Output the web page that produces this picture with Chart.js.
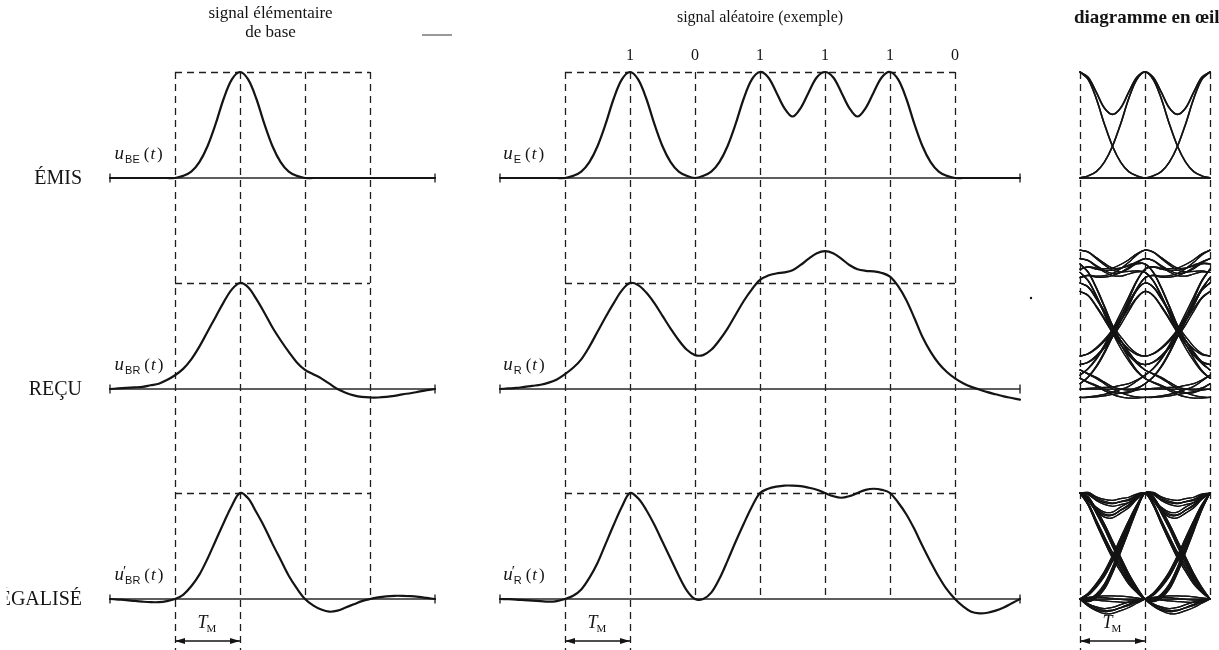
<!DOCTYPE html>
<html>
<head>
<meta charset="utf-8">
<script src="https://cdn.jsdelivr.net/npm/chart.js@4"></script>
<style>
html,body{margin:0;padding:0;background:#fff;overflow:hidden}
canvas{display:block}
</style>
</head>
<body>
<canvas id="c" width="1219" height="650"></canvas>
<script>
// ---------------- DATA (x unit = T_M, y: peak of the pulse = 1) ----------------
// time grid of the elementary pulse (t = 0 at the first dashed line, peak at t = 1)
const tPulse = [-1, -0.875, -0.75, -0.625, -0.5, -0.375, -0.25, -0.125, 0,
  0.125, 0.25, 0.375, 0.5, 0.625, 0.75, 0.875, 1,
  1.125, 1.25, 1.375, 1.5, 1.625, 1.75, 1.875, 2,
  2.125, 2.25, 2.375, 2.5, 2.625, 2.75, 2.875, 3,
  3.125, 3.25, 3.375, 3.5, 3.625, 3.75, 3.875, 4];
// elementary pulses u_BE, u_BR, u'_BR
const pulseEmitted = [0, 0, 0, 0, 0, 0, 0, 0, 0,
  0.02, 0.06, 0.15, 0.30, 0.51, 0.75, 0.93, 1,
  0.93, 0.75, 0.51, 0.30, 0.15, 0.06, 0.02, 0,
  0, 0, 0, 0, 0, 0, 0, 0,
  0, 0, 0, 0, 0, 0, 0, 0];
const pulseReceived = [0, 0.005, 0.01, 0.015, 0.02, 0.035, 0.05, 0.085, 0.13,
  0.19, 0.28, 0.40, 0.54, 0.68, 0.82, 0.94, 1,
  0.96, 0.85, 0.72, 0.58, 0.46, 0.35, 0.25, 0.18,
  0.14, 0.10, 0.05, 0.0, -0.035, -0.06, -0.075, -0.08,
  -0.08, -0.075, -0.065, -0.05, -0.04, -0.025, -0.01, 0];
const pulseEqualized = [0, -0.005, -0.01, -0.018, -0.025, -0.03, -0.03, -0.02, 0,
  0.04, 0.12, 0.23, 0.38, 0.55, 0.72, 0.88, 1,
  0.95, 0.82, 0.68, 0.52, 0.37, 0.22, 0.10, 0,
  -0.06, -0.10, -0.12, -0.11, -0.08, -0.05, -0.02, 0,
  0.015, 0.025, 0.03, 0.03, 0.027, 0.02, 0.01, 0];

// time grid of the random signal (bits at t = 1 ... 6)
const tRandom = [-1, -0.875, -0.75, -0.625, -0.5, -0.375, -0.25, -0.125, 0,
  0.125, 0.25, 0.375, 0.5, 0.625, 0.75, 0.875, 1,
  1.125, 1.25, 1.375, 1.5, 1.625, 1.75, 1.875, 2,
  2.125, 2.25, 2.375, 2.5, 2.625, 2.75, 2.875, 3,
  3.125, 3.25, 3.375, 3.5, 3.625, 3.75, 3.875, 4,
  4.125, 4.25, 4.375, 4.5, 4.625, 4.75, 4.875, 5,
  5.125, 5.25, 5.375, 5.5, 5.625, 5.75, 5.875, 6,
  6.125, 6.25, 6.375, 6.5, 6.625, 6.75, 6.875, 7];
// u_E, u_R, u'_R
const signalEmitted = [0, 0, 0, 0, 0, 0, 0, 0, 0,
  0.02, 0.06, 0.15, 0.30, 0.51, 0.75, 0.93, 1,
  0.93, 0.75, 0.51, 0.30, 0.15, 0.06, 0.02, 0,
  0.02, 0.06, 0.15, 0.30, 0.51, 0.75, 0.93, 1,
  0.95, 0.81, 0.66, 0.58, 0.66, 0.81, 0.95, 1,
  0.95, 0.81, 0.66, 0.58, 0.66, 0.81, 0.95, 1,
  0.93, 0.75, 0.51, 0.30, 0.15, 0.06, 0.02, 0,
  0, 0, 0, 0, 0, 0, 0, 0];
const signalReceived = [0, 0.005, 0.01, 0.02, 0.03, 0.04, 0.06, 0.09, 0.14,
  0.20, 0.28, 0.40, 0.54, 0.68, 0.81, 0.93, 1,
  0.98, 0.91, 0.81, 0.69, 0.57, 0.46, 0.37, 0.32,
  0.32, 0.37, 0.46, 0.57, 0.70, 0.83, 0.94, 1.03,
  1.07, 1.09, 1.10, 1.12, 1.17, 1.23, 1.28, 1.30,
  1.28, 1.23, 1.17, 1.13, 1.115, 1.11, 1.095, 1.06,
  0.97, 0.84, 0.67, 0.49, 0.35, 0.24, 0.16, 0.10,
  0.055, 0.02, -0.005, -0.03, -0.05, -0.07, -0.085, -0.10];
const signalEqualized = [0, -0.002, -0.005, -0.01, -0.015, -0.02, -0.025, -0.02, 0,
  0.03, 0.09, 0.20, 0.34, 0.52, 0.70, 0.87, 1,
  0.95, 0.84, 0.70, 0.54, 0.38, 0.22, 0.08, 0,
  0.0, 0.06, 0.19, 0.36, 0.54, 0.71, 0.87, 1,
  1.04, 1.06, 1.07, 1.07, 1.065, 1.05, 1.03, 1.0,
  0.97, 0.955, 0.97, 1.0, 1.03, 1.04, 1.03, 1.0,
  0.91, 0.80, 0.66, 0.50, 0.35, 0.21, 0.09, 0,
  -0.07, -0.12, -0.135, -0.13, -0.11, -0.08, -0.04, 0];

// bits of the example and their sampling instants
const bitLabels = ['1', '0', '1', '1', '1', '0'];
const bitTimes  = [1, 2, 3, 4, 5, 6];
// sampling instants (dashed verticals)
const sampleTimesPulse  = [0, 1, 2, 3];
const sampleTimesRandom = [0, 1, 2, 3, 4, 5, 6];
const sampleTimesEye    = [-1, 0, 1];
// eye diagram: time window around the decision instant and neighbouring symbols overlaid
const eyeTimes = [-1, -0.875, -0.75, -0.625, -0.5, -0.375, -0.25, -0.125, 0,
  0.125, 0.25, 0.375, 0.5, 0.625, 0.75, 0.875, 1];
const eyeNeighboursEmitted  = [-1, 0, 1];
const eyeNeighboursReceived = [-3, -2, -1, 0, 1, 2];

const rowLabels = ['ÉMIS', 'REÇU', 'ÉGALISÉ'];

// ---------------- GEOMETRY (layout only) ----------------
const W = 1219, H = 650;
const G = { unitX: 65, unitY: 106, colA: 175, colB: 565, colC: 1145, rows: [178, 389, 599] };
function xScale(o) { return { type: 'linear', display: false, min: -o / G.unitX, max: (W - o) / G.unitX }; }
function yScale(z) { return { type: 'linear', display: false, min: -(H - z) / G.unitY, max: z / G.unitY }; }

// ---------------- DATASETS ----------------
const INK = '#141414';
function pts(xs, ys) { return xs.map((x, i) => ({ x: x, y: ys[i] })); }
function curve(xs, ys, xA, yA, w) {
  return { data: pts(xs, ys), xAxisID: xA, yAxisID: yA, borderColor: INK, borderWidth: w,
           pointRadius: 0, tension: 0.35, fill: false, order: 1 };
}
function axisLine(xs, xA, yA) {
  const a = xs[0], b = xs[xs.length - 1];
  return { data: [{ x: a, y: 0 }, { x: b, y: 0 }], xAxisID: xA, yAxisID: yA, borderColor: '#2a2a2a',
           borderWidth: 1.3, tension: 0, pointStyle: 'line', rotation: 90, pointRadius: 4.5,
           pointBorderWidth: 1.4, pointBorderColor: '#2a2a2a', order: 2 };
}
function pulseAt(pulse, tau) {
  const i = Math.round((tau + 1 - tPulse[0]) / (tPulse[1] - tPulse[0]));
  return (i >= 0 && i < pulse.length) ? pulse[i] : 0;
}
function eyeTraces(pulse, neigh) {
  const out = [];
  for (let m = 0; m < (1 << neigh.length); m++) {
    out.push(eyeTimes.map(tau => neigh.reduce((s, c, k) => s + (((m >> k) & 1) ? pulseAt(pulse, tau - c) : 0), 0)));
  }
  return out;
}

const datasets = [];
const rowsY = ['yR1', 'yR2', 'yR3'];
[pulseEmitted, pulseReceived, pulseEqualized].forEach((p, r) => {
  datasets.push(curve(tPulse, p, 'xA', rowsY[r], 2.2));
  datasets.push(axisLine(tPulse, 'xA', rowsY[r]));
});
[signalEmitted, signalReceived, signalEqualized].forEach((s, r) => {
  datasets.push(curve(tRandom, s, 'xB', rowsY[r], 2.2));
  datasets.push(axisLine(tRandom, 'xB', rowsY[r]));
});
[[pulseEmitted, eyeNeighboursEmitted, 1.6], [pulseReceived, eyeNeighboursReceived, 1.25], [pulseEqualized, eyeNeighboursReceived, 1.25]]
  .forEach(([p, n, w], r) => {
    eyeTraces(p, n).forEach(tr => datasets.push(curve(eyeTimes, tr, 'xC', rowsY[r], w)));
  });

// ---------------- DECORATION PLUGIN (guides, texts, arrows) ----------------
const SERIF = '"Liberation Serif", "Times New Roman", serif';
function drawMath(ctx, x, y, sub, prime) {
  ctx.textAlign = 'left'; ctx.textBaseline = 'alphabetic'; ctx.fillStyle = INK;
  ctx.font = 'italic 19px ' + SERIF; ctx.fillText('u', x, y); x += ctx.measureText('u').width + 1;
  if (prime) { ctx.font = '15px ' + SERIF; ctx.fillText('\u2032', x - 2, y - 4); }
  ctx.font = '11px "Liberation Sans", Arial, sans-serif'; ctx.fillText(sub, x, y + 4); x += ctx.measureText(sub).width + 4;
  ctx.font = '17px ' + SERIF; ctx.fillText('(', x, y); x += ctx.measureText('(').width + 1;
  ctx.font = 'italic 17px ' + SERIF; ctx.fillText('t', x, y); x += ctx.measureText('t').width + 2;
  ctx.font = '17px ' + SERIF; ctx.fillText(')', x, y);
}
function arrowHead(ctx, x, y, dir) {
  ctx.beginPath(); ctx.moveTo(x, y); ctx.lineTo(x - dir * 10, y - 3); ctx.lineTo(x - dir * 10, y + 3); ctx.closePath(); ctx.fill();
}
function drawTM(ctx, x1, x2, y) {
  ctx.save(); ctx.setLineDash([]); ctx.strokeStyle = INK; ctx.fillStyle = INK; ctx.lineWidth = 1.4;
  ctx.beginPath(); ctx.moveTo(x1, y); ctx.lineTo(x2, y); ctx.stroke();
  arrowHead(ctx, x1, y, -1); arrowHead(ctx, x2, y, 1);
  const cx = (x1 + x2) / 2;
  ctx.font = 'italic 18px ' + SERIF; ctx.textBaseline = 'alphabetic'; ctx.textAlign = 'left';
  const wT = ctx.measureText('T').width;
  ctx.font = '11px ' + SERIF; const wM = ctx.measureText('M').width;
  const x0 = cx - (wT + wM) / 2;
  ctx.font = 'italic 18px ' + SERIF; ctx.fillText('T', x0, y - 13);
  ctx.font = '11px ' + SERIF; ctx.fillText('M', x0 + wT - 1, y - 9);
  ctx.restore();
}

const decor = {
  id: 'decor',
  beforeDatasetsDraw(chart) {
    const ctx = chart.ctx, s = chart.scales;
    const top = s.yR1.getPixelForValue(1), bot3 = s.yR3.getPixelForValue(0), bottom = chart.chartArea.bottom;
    ctx.save();
    ctx.strokeStyle = '#1e1e1e'; ctx.lineWidth = 1.3; ctx.setLineDash([7, 5]);
    const v = (x, y1, y2) => { ctx.beginPath(); ctx.moveTo(Math.round(x) + 0.5, y1); ctx.lineTo(Math.round(x) + 0.5, y2); ctx.stroke(); };
    const h = (x1, x2, y) => { ctx.beginPath(); ctx.moveTo(x1, Math.round(y) + 0.5); ctx.lineTo(x2, Math.round(y) + 0.5); ctx.stroke(); };
    sampleTimesPulse.forEach((t, i) => v(s.xA.getPixelForValue(t), top, i < 2 ? bottom : bot3));
    sampleTimesRandom.forEach((t, i) => v(s.xB.getPixelForValue(t), top, i < 2 ? bottom : bot3));
    sampleTimesEye.forEach((t, i) => v(s.xC.getPixelForValue(t), top, i < 2 ? bottom : bot3));
    rowsY.forEach(id => {
      const y = s[id].getPixelForValue(1);
      h(s.xA.getPixelForValue(sampleTimesPulse[0]), s.xA.getPixelForValue(sampleTimesPulse[sampleTimesPulse.length - 1]), y);
      h(s.xB.getPixelForValue(sampleTimesRandom[0]), s.xB.getPixelForValue(sampleTimesRandom[sampleTimesRandom.length - 1]), y);
    });
    ctx.restore();
  },
  afterDatasetsDraw(chart) {
    const ctx = chart.ctx, s = chart.scales;
    ctx.save();
    ctx.fillStyle = INK;
    // column titles
    ctx.textAlign = 'center'; ctx.textBaseline = 'middle';
    ctx.font = '17px ' + SERIF;
    const cA = s.xA.getPixelForValue(1.47);
    ctx.fillText('signal élémentaire', cA, 14);
    ctx.fillText('de base', cA, 33);
    ctx.font = '16px ' + SERIF;
    ctx.fillText('signal aléatoire (exemple)', s.xB.getPixelForValue(3), 18);
    ctx.font = 'bold 19px ' + SERIF; ctx.textAlign = 'left';
    ctx.fillText('diagramme en œil', s.xC.getPixelForValue(-1) - 6, 18);
    // stray scan marks of the original
    ctx.strokeStyle = '#777'; ctx.lineWidth = 1.5; ctx.beginPath(); ctx.moveTo(422, 35); ctx.lineTo(452, 35); ctx.stroke();
    ctx.beginPath(); ctx.arc(1031, 298, 1.2, 0, Math.PI * 2); ctx.fill();
    // bit labels
    ctx.font = '16px ' + SERIF; ctx.textAlign = 'center';
    const yBits = s.yR1.getPixelForValue(1) - 16;
    bitLabels.forEach((b, i) => ctx.fillText(b, s.xB.getPixelForValue(bitTimes[i]), yBits));
    // row labels
    ctx.font = '20px ' + SERIF; ctx.textAlign = 'right';
    rowLabels.forEach((lab, r) => {
      const y = s[rowsY[r]].getPixelForValue(0);
      if (r === 2) {
        const w = ctx.measureText(lab).width, wE = ctx.measureText('É').width;
        ctx.save(); ctx.beginPath(); ctx.rect(82 - w + wE * 0.66, 0, 200, H); ctx.clip();
        ctx.fillText(lab, 82, y + 1); ctx.restore();
      } else ctx.fillText(lab, 82, y + 1);
    });
    // curve labels
    const subs = [['BE', false, 'E', false], ['BR', false, 'R', false], ['BR', true, 'R', true]];
    subs.forEach((sb, r) => {
      const y = s[rowsY[r]].getPixelForValue(0) - 19;
      drawMath(ctx, s.xA.getPixelForValue(-0.93), y, sb[0], sb[1]);
      drawMath(ctx, s.xB.getPixelForValue(-0.95), y, sb[2], sb[3]);
    });
    // T_M arrows
    const ya = chart.chartArea.bottom - 9;
    drawTM(ctx, s.xA.getPixelForValue(0), s.xA.getPixelForValue(1), ya);
    drawTM(ctx, s.xB.getPixelForValue(0), s.xB.getPixelForValue(1), ya);
    drawTM(ctx, s.xC.getPixelForValue(-1), s.xC.getPixelForValue(0), ya);
    ctx.restore();
  }
};

new Chart(document.getElementById('c'), {
  type: 'line',
  data: { datasets: datasets },
  options: {
    responsive: false, animation: false, devicePixelRatio: 1,
    layout: { padding: 0, autoPadding: false },
    plugins: { legend: { display: false }, tooltip: { enabled: false }, title: { display: false } },
    events: [],
    scales: {
      xA: xScale(G.colA), xB: xScale(G.colB), xC: xScale(G.colC),
      yR1: yScale(G.rows[0]), yR2: yScale(G.rows[1]), yR3: yScale(G.rows[2])
    },
    elements: { line: { borderCapStyle: 'round', borderJoinStyle: 'round' } }
  },
  plugins: [decor]
});
</script>
</body>
</html>
